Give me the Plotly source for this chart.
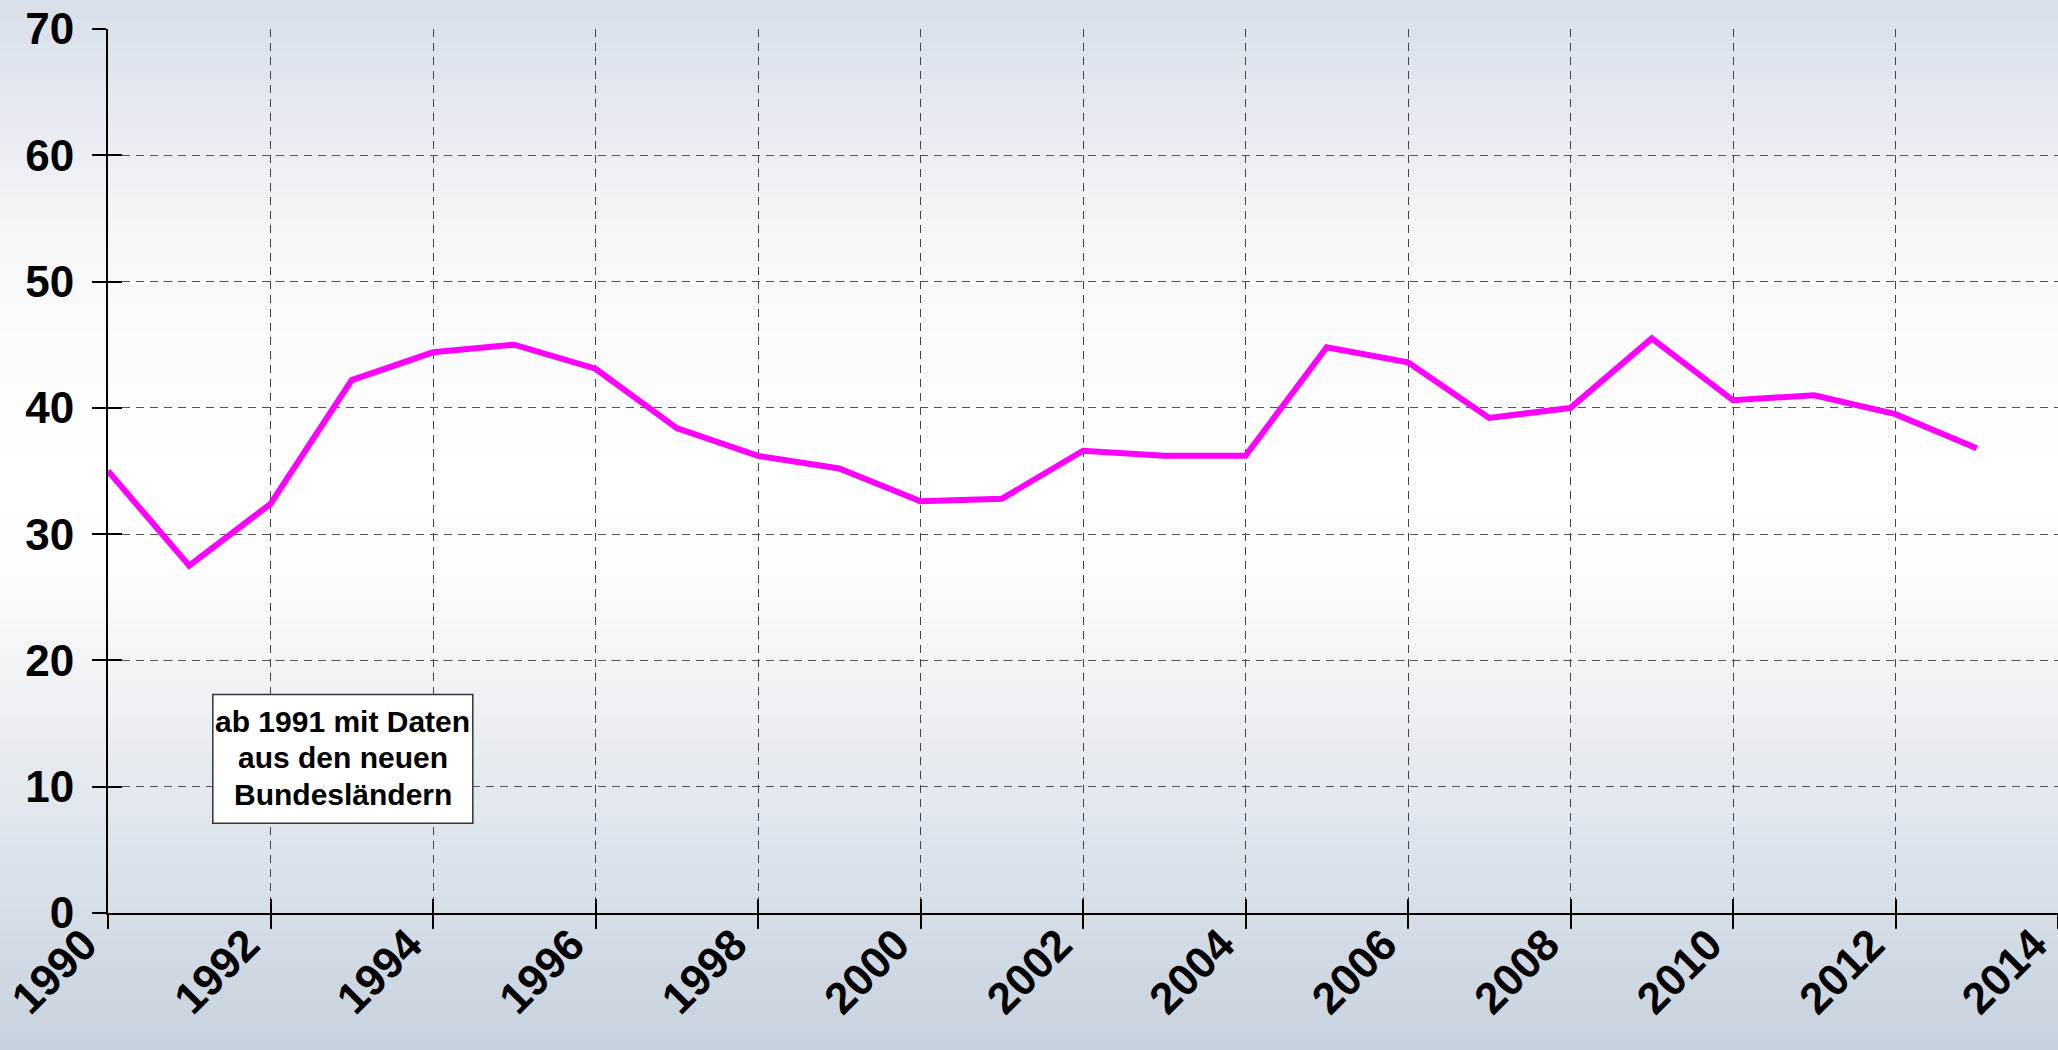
import plotly.graph_objects as go

# Werte je Jahr
jahre = list(range(1990, 2014))
werte = [35.0, 27.5, 32.4, 42.2, 44.4, 45.0, 43.1, 38.4, 36.2, 35.2, 32.6, 32.8,
         36.6, 36.2, 36.2, 44.8, 43.6, 39.2, 40.0, 45.5, 40.6, 41.0, 39.5, 36.8]

hinweis_zeilen = ["ab 1991 mit Daten", "aus den neuen", "Bundesländern"]

W, H = 2058, 1050
ML, MR, MT, MB = 108, 0, 29, 137

FONT = "Liberation Sans, Arial, sans-serif"
tick_font_y = dict(family=FONT, size=44, color="black", weight="bold")
tick_font_x = dict(family=FONT, size=44, color="black", weight="bold")

fig = go.Figure()

fig.add_trace(go.Scatter(
    x=jahre, y=werte,
    mode="lines",
    line=dict(color="#ff00ff", width=6),
    showlegend=False,
    hoverinfo="x+y"
))

# unsichtbare Spur fuer die Achsen mit Innen-Ticks
fig.add_trace(go.Scatter(
    x=[jahre[0]], y=[0], xaxis="x2", yaxis="y2",
    mode="markers", marker=dict(opacity=0),
    showlegend=False, hoverinfo="skip"
))

# Hintergrundverlauf als Streifen
stops = [(0, (216, 223, 233)), (250, (247, 248, 250)), (470, (255, 255, 255)),
         (560, (254, 254, 255)), (750, (232, 236, 241)), (1050, (198, 210, 222))]


def farbe(py):
    for (a, ca), (b, cb) in zip(stops[:-1], stops[1:]):
        if a <= py <= b:
            t = (py - a) / (b - a)
            c = [round(ca[i] + (cb[i] - ca[i]) * t) for i in range(3)]
            return "rgb(%d,%d,%d)" % tuple(c)
    return "rgb(%d,%d,%d)" % stops[-1][1]


plot_w = W - ML - MR
plot_h = H - MT - MB
schritt = 6
for py in range(0, H, schritt):
    y_top = (H - MB - py) / plot_h
    y_bot = (H - MB - (py + schritt + 1)) / plot_h
    fig.add_shape(type="rect", xref="paper", yref="paper",
                  x0=-ML / plot_w - 0.01, x1=1.01, y0=y_bot, y1=y_top,
                  fillcolor=farbe(py + schritt / 2), line_width=0, layer="below")

# Hinweiskasten
fig.add_shape(type="rect", xref="x", yref="y",
              x0=1991.29, x1=1994.49, y0=7.1, y1=17.3,
              fillcolor="white", line=dict(color="#333", width=1.5), layer="above")
for zeile, yy in zip(hinweis_zeilen, [15.2, 12.3, 9.4]):
    fig.add_annotation(x=1992.89, y=yy, xref="x", yref="y", text=zeile,
                       showarrow=False,
                       font=dict(family=FONT, size=30, color="black", weight="bold"))

achse_gemeinsam = dict(
    showline=True, linecolor="black", linewidth=2,
    ticks="outside", ticklen=14, tickwidth=2, tickcolor="black",
    zeroline=False, automargin=False,
    ticklabeloverflow="allow",
)

fig.update_layout(
    width=W, height=H,
    margin=dict(l=ML, r=MR, t=MT, b=MB, autoexpand=False),
    paper_bgcolor="#e9edf2",
    plot_bgcolor="rgba(0,0,0,0)",
    xaxis=dict(
        range=[1990, 2014], tick0=1990, dtick=2, tickangle=-45,
        showgrid=True, gridcolor="#444", gridwidth=1, griddash="8px,6px",
        ticklabelstandoff=-28, ticklabelshift=-24, tickfont=tick_font_x,
        **achse_gemeinsam
    ),
    yaxis=dict(
        range=[0, 70], tick0=0, dtick=10,
        showgrid=True, gridcolor="#555", gridwidth=1, griddash="8px,6px",
        ticklabelstandoff=9, tickfont=tick_font_y,
        **achse_gemeinsam
    ),
    xaxis2=dict(overlaying="x", anchor="y2", range=[1990, 2014], tick0=1990, dtick=2,
                showgrid=False, zeroline=False, showticklabels=False, automargin=False,
                ticks="inside", ticklen=14, tickwidth=2, tickcolor="black"),
    yaxis2=dict(overlaying="y", anchor="x2", range=[0, 70], tick0=0, dtick=10,
                showgrid=False, zeroline=False, showticklabels=False, automargin=False,
                ticks="inside", ticklen=14, tickwidth=2, tickcolor="black"),
)

fig.write_html("out.html",
               config={"displayModeBar": False},
               post_script="document.body.style.margin='0';document.body.style.overflow='hidden';")
